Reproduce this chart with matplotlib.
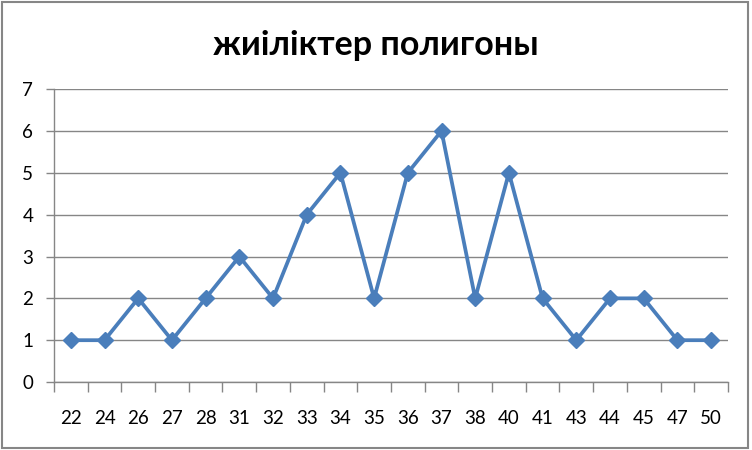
import numpy as np
import matplotlib
matplotlib.use("Agg")
import matplotlib.pyplot as plt
from matplotlib.patches import Rectangle

categories = ["22", "24", "26", "27", "28", "31", "32", "33", "34", "35",
              "36", "37", "38", "40", "41", "43", "44", "45", "47", "50"]
counts = [1, 1, 2, 1, 2, 3, 2, 4, 5, 2, 5, 6, 2, 5, 2, 1, 2, 2, 1, 1]

plt.rcParams["font.family"] = ["Lato", "DejaVu Sans"]

fig = plt.figure(figsize=(7.52, 4.5), dpi=100)
ax = fig.add_axes([0.0718, 0.151, 0.8962, 0.651])

x = np.arange(len(categories))
ax.plot(x, counts, color="#4a7ebb", linewidth=2.7, marker="D",
        markersize=8.5, markeredgecolor="#4a7ebb", markerfacecolor="#4a7ebb",
        zorder=3)

ax.set_xlim(-0.5, len(categories) - 0.5)
ax.set_ylim(0, 7)
ax.set_yticks(range(0, 8))
ax.yaxis.grid(True, color="#868686", linewidth=1.0)
ax.set_axisbelow(True)

ax.set_xticks(x)
ax.set_xticklabels(categories)
ax.set_xticks(np.arange(-0.5, len(categories), 1.0), minor=True)
ax.tick_params(axis="x", which="major", length=0, pad=20, labelsize=13.5)
ax.tick_params(axis="x", which="minor", length=7, color="#868686", width=1)
ax.tick_params(axis="y", length=6, color="#868686", width=1, pad=9, labelsize=13.5)

for side in ["top", "right"]:
    ax.spines[side].set_visible(False)
for side in ["left", "bottom"]:
    ax.spines[side].set_color("#868686")
    ax.spines[side].set_linewidth(1.0)

fig.text(0.5, 0.9, "жиіліктер полигоны", ha="center", va="center",
         fontsize=24.5, fontweight="bold")

fig.patches.append(Rectangle((0.003, 0.004), 0.992, 0.992, transform=fig.transFigure,
                             fill=False, edgecolor="#868686", linewidth=1.5))

fig.savefig("out.png", dpi=100)
